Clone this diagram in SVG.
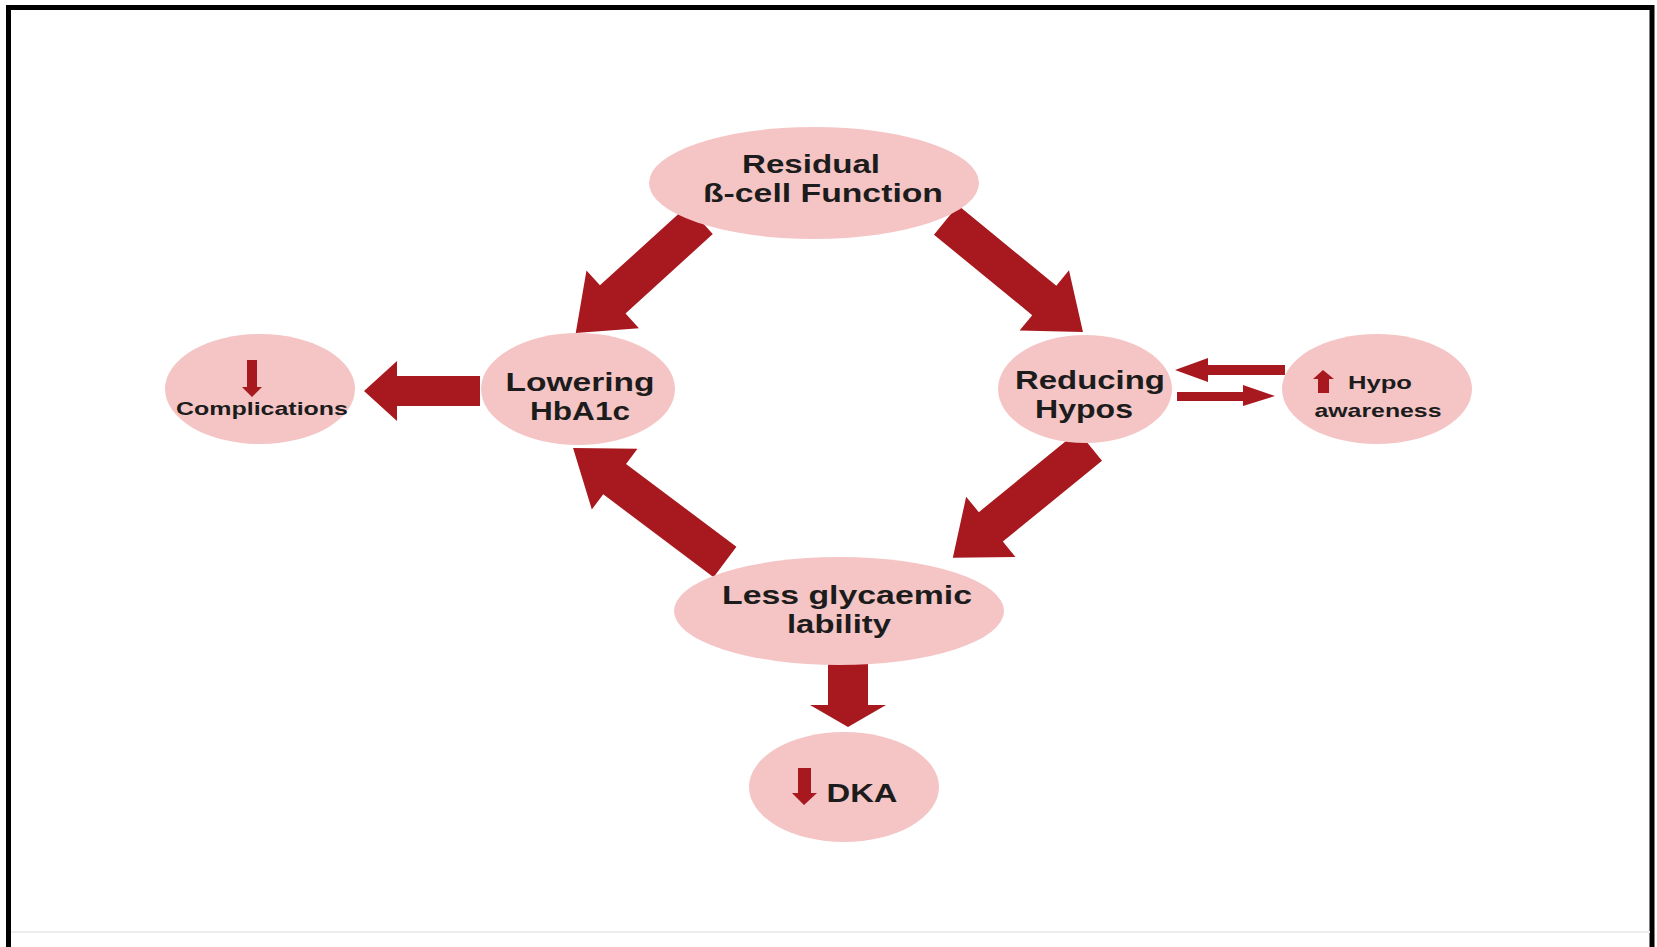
<svg xmlns="http://www.w3.org/2000/svg" width="1657" height="947" viewBox="0 0 1657 947">
<style>
.node{fill:#f5c5c5}
.arrow{fill:#a8191f}
.t{font-family:"Liberation Sans",Arial,sans-serif;font-weight:bold;fill:#1c1c1c;text-anchor:middle}
.big{font-size:25px}
.sm{font-size:19px}
</style>
<rect x="0" y="0" width="1657" height="947" fill="#ffffff"/>
<path d="M8.5,947 V7.5 H1652 V947" fill="none" stroke="#000" stroke-width="5"/>
<line x1="11" y1="932" x2="1650" y2="932" stroke="#ececec" stroke-width="2"/>
<g id="connectors">
  <polygon class="arrow" transform="translate(700,220) rotate(137.7)" points="0,-19 118,-19 118,-39 168,0 118,39 118,19 0,19"/>
  <polygon class="arrow" transform="translate(946,220) rotate(39.3)" points="0,-19 127,-19 127,-39 177,0 127,39 127,19 0,19"/>
  <polygon class="arrow" transform="translate(725,562) rotate(-143.1)" points="0,-19 138,-19 138,-38 190,0 138,38 138,19 0,19"/>
  <polygon class="arrow" transform="translate(1090,446) rotate(140.8)" points="0,-19 128,-19 128,-39 177,0 128,39 128,19 0,19"/>
  <polygon class="arrow" points="480,376 397,376 397,361 364,391 397,421 397,406 480,406"/>
  <polygon class="arrow" points="1285,365 1208,365 1208,358 1175,370 1208,382 1208,375 1285,375"/>
  <polygon class="arrow" points="1177,392 1243,392 1243,385 1275,396 1243,406 1243,401 1177,401"/>
  <polygon class="arrow" points="828,658 868,658 868,705 886,705 848,727 810,705 828,705"/>
</g>
<g id="residual">
  <ellipse class="node" cx="814" cy="183" rx="165" ry="56"/>
  <text class="t big" x="811" y="173" textLength="138" lengthAdjust="spacingAndGlyphs">Residual</text>
  <text class="t big" x="823" y="202" textLength="240" lengthAdjust="spacingAndGlyphs">ß-cell Function</text>
</g>
<g id="lowering">
  <ellipse class="node" cx="578" cy="389" rx="97" ry="56"/>
  <text class="t big" x="580" y="391" textLength="149" lengthAdjust="spacingAndGlyphs">Lowering</text>
  <text class="t big" x="580" y="420" textLength="100" lengthAdjust="spacingAndGlyphs">HbA1c</text>
</g>
<g id="complications">
  <ellipse class="node" cx="260" cy="389" rx="95" ry="55"/>
  <polygon class="arrow" points="247,360 257,360 257,387 262,387 252,397 242,387 247,387"/>
  <text class="t sm" x="262" y="415" textLength="172" lengthAdjust="spacingAndGlyphs">Complications</text>
</g>
<g id="reducing">
  <ellipse class="node" cx="1085" cy="389" rx="87" ry="54"/>
  <text class="t big" x="1090" y="389" textLength="150" lengthAdjust="spacingAndGlyphs">Reducing</text>
  <text class="t big" x="1084" y="418" textLength="98" lengthAdjust="spacingAndGlyphs">Hypos</text>
</g>
<g id="awareness">
  <ellipse class="node" cx="1377" cy="389" rx="95" ry="55"/>
  <polygon class="arrow" points="1323,370 1334,379 1329,379 1329,393 1318,393 1318,379 1313,379"/>
  <text class="t sm" x="1380" y="389" textLength="64" lengthAdjust="spacingAndGlyphs">Hypo</text>
  <text class="t sm" x="1378" y="417" textLength="127" lengthAdjust="spacingAndGlyphs">awareness</text>
</g>
<g id="lability">
  <ellipse class="node" cx="839" cy="611" rx="165" ry="54"/>
  <text class="t big" x="847" y="604" textLength="250" lengthAdjust="spacingAndGlyphs">Less glycaemic</text>
  <text class="t big" x="839" y="633" textLength="104" lengthAdjust="spacingAndGlyphs">lability</text>
</g>
<g id="dka">
  <ellipse class="node" cx="844" cy="787" rx="95" ry="55"/>
  <polygon class="arrow" points="798,768 811,768 811,793 817,793 804,805 792,793 798,793"/>
  <text class="t big" x="862" y="802" textLength="71" lengthAdjust="spacingAndGlyphs">DKA</text>
</g>
</svg>
